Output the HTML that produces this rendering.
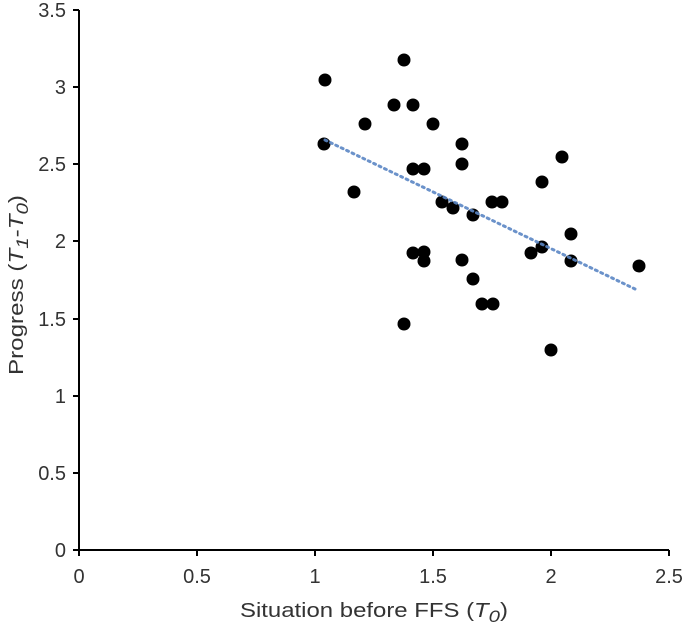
<!DOCTYPE html>
<html><head><style>body{margin:0;background:#fff}svg{display:block}text{font-family:"Liberation Sans",sans-serif;fill:#333;font-size:20px}</style></head><body>
<svg width="685" height="622" viewBox="0 0 685 622">
<g stroke="#000" stroke-width="2">
<line x1="79" y1="10" x2="79" y2="551"/>
<line x1="78" y1="550" x2="669" y2="550"/>
<line x1="73" y1="550" x2="79" y2="550"/><line x1="73" y1="473" x2="79" y2="473"/><line x1="73" y1="396" x2="79" y2="396"/><line x1="73" y1="319" x2="79" y2="319"/><line x1="73" y1="241" x2="79" y2="241"/><line x1="73" y1="164" x2="79" y2="164"/><line x1="73" y1="87" x2="79" y2="87"/><line x1="73" y1="10" x2="79" y2="10"/>
<line x1="79" y1="550" x2="79" y2="556"/><line x1="197" y1="550" x2="197" y2="556"/><line x1="315" y1="550" x2="315" y2="556"/><line x1="433" y1="550" x2="433" y2="556"/><line x1="551" y1="550" x2="551" y2="556"/><line x1="669" y1="550" x2="669" y2="556"/>
</g>
<g text-anchor="end">
<text x="66" y="557">0</text><text x="66" y="480">0.5</text><text x="66" y="403">1</text><text x="66" y="326">1.5</text><text x="66" y="248">2</text><text x="66" y="171">2.5</text><text x="66" y="94">3</text><text x="66" y="17">3.5</text>
</g>
<g text-anchor="middle">
<text x="79" y="583">0</text><text x="197" y="583">0.5</text><text x="315" y="583">1</text><text x="433" y="583">1.5</text><text x="551" y="583">2</text><text x="669" y="583">2.5</text>
</g>
<text x="240" y="617" font-size="25" textLength="268" lengthAdjust="spacingAndGlyphs">Situation before FFS (<tspan font-style="italic">T</tspan><tspan font-style="italic" font-size="17" dy="5">0</tspan><tspan dy="-5">)</tspan></text>
<text transform="translate(23,375) rotate(-90)" font-size="25" textLength="180" lengthAdjust="spacingAndGlyphs">Progress (<tspan font-style="italic">T</tspan><tspan font-style="italic" font-size="17" dy="5">1</tspan><tspan dy="-5">-</tspan><tspan font-style="italic">T</tspan><tspan font-style="italic" font-size="17" dy="5">0</tspan><tspan dy="-5">)</tspan></text>
<g fill="#000">
<circle cx="404" cy="60" r="6.5"/><circle cx="325" cy="80" r="6.5"/><circle cx="394" cy="105" r="6.5"/><circle cx="413" cy="105" r="6.5"/><circle cx="365" cy="124" r="6.5"/><circle cx="433" cy="124" r="6.5"/><circle cx="462" cy="144" r="6.5"/><circle cx="324" cy="144" r="6.5"/><circle cx="562" cy="157" r="6.5"/><circle cx="462" cy="164" r="6.5"/><circle cx="413" cy="169" r="6.5"/><circle cx="424" cy="169" r="6.5"/><circle cx="542" cy="182" r="6.5"/><circle cx="354" cy="192" r="6.5"/><circle cx="442" cy="202" r="6.5"/><circle cx="453" cy="208" r="6.5"/><circle cx="492" cy="202" r="6.5"/><circle cx="502" cy="202" r="6.5"/><circle cx="473" cy="215" r="6.5"/><circle cx="571" cy="234" r="6.5"/><circle cx="542" cy="247" r="6.5"/><circle cx="531" cy="253" r="6.5"/><circle cx="413" cy="253" r="6.5"/><circle cx="424" cy="252" r="6.5"/><circle cx="424" cy="261" r="6.5"/><circle cx="462" cy="260" r="6.5"/><circle cx="571" cy="261" r="6.5"/><circle cx="639" cy="266" r="6.5"/><circle cx="473" cy="279" r="6.5"/><circle cx="482" cy="304" r="6.5"/><circle cx="493" cy="304" r="6.5"/><circle cx="404" cy="324" r="6.5"/><circle cx="551" cy="350" r="6.5"/>
</g>
<line x1="325" y1="140" x2="635" y2="289" stroke="#5b87c5" stroke-width="3" stroke-dasharray="2,4" stroke-linecap="round" opacity="0.9"/>
</svg>
</body></html>
